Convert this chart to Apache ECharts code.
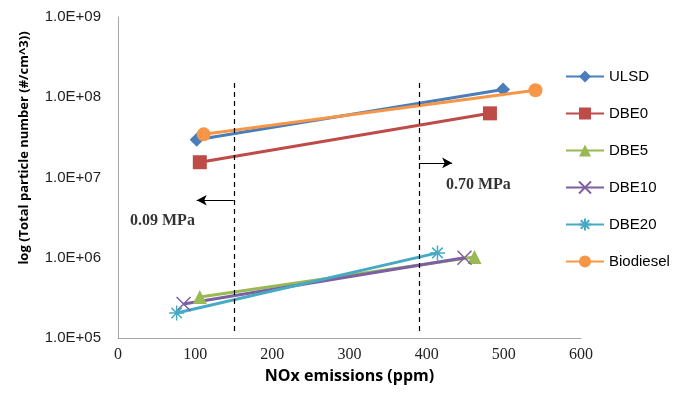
<!DOCTYPE html>
<html><head><meta charset="utf-8">
<script src="https://cdn.jsdelivr.net/npm/echarts@6/dist/echarts.min.js"></script>
<style>html,body{margin:0;padding:0;background:#fff}#c{width:690px;height:395px}</style>
</head><body><div id="c"></div>
<script>
var seriesNames = ['ULSD','DBE0','DBE5','DBE10','DBE20','Biodiesel'];
var ulsd      = [[102, 2.95e7], [499, 1.25e8]];
var dbe0      = [[106, 1.55e7], [482, 6.3e7]];
var dbe5      = [[106, 3.25e5], [462, 1.02e6]];
var dbe10     = [[85, 2.65e5], [449, 1.0e6]];
var dbe20     = [[76, 2.05e5], [414, 1.15e6]];
var biodiesel = [[111, 3.45e7], [541, 1.22e8]];
var xTicks = [0,100,200,300,400,500,600];
var yTicks = [1e5,1e6,1e7,1e8,1e9];
var pressureLines = [150, 390];
var annotations = [{text:'0.09 MPa', x:57.6, y:2.87e6}, {text:'0.70 MPa', x:467, y:8.07e6}];
var yTitle = 'log (Total particle number (#/cm^3))';
var xTitle = 'NOx emissions (ppm)';

var colors = ['#4a7ebb','#be4b48','#98b954','#7d60a0','#46aac5','#f79646'];
var crossPath = 'path://M0,0L10,10M10,0L0,10';
var starPath = 'path://M0,5L10,5M5,0L5,10M1.5,1.5L8.5,8.5M8.5,1.5L1.5,8.5';
var symbols = ['diamond','rect','triangle',crossPath,starPath,'circle'];
var symSizes = [14,14,14,14,15,14];
var datas = [ulsd,dbe0,dbe5,dbe10,dbe20,biodiesel];

function fmt(v){
  var e = Math.round(Math.log10(v));
  var m = v/Math.pow(10,e);
  return m.toFixed(1)+'E+'+(e<10?'0':'')+e;
}

var series = seriesNames.map(function(n,i){
  var isLineSym = i===3||i===4;
  return {
    name:n, type:'line', data:datas[i], symbol:symbols[i], symbolSize:symSizes[i],
    lineStyle:{width:3,color:colors[i]},
    itemStyle: isLineSym ? {color:'rgba(0,0,0,0)',borderColor:colors[i],borderWidth:1.5} : {color:colors[i],borderWidth:0},
    z: i===5?3:2, animation:false
  };
});

var dash = {type:'line', data:[], silent:true, animation:false,
  markLine:{silent:true, symbol:['none','none'], label:{show:false},
    lineStyle:{color:'#000',type:[5,4],width:1.2},
    data: pressureLines.map(function(x){return [{coord:[x,1.5e8]},{coord:[x,1.15e5]}];})
  }
};
var arrows = {type:'line', data:[], silent:true, animation:false,
  markLine:{silent:true, symbol:['none','arrow'], symbolSize:[8,10], label:{show:false},
    lineStyle:{color:'#000',type:'solid',width:1.2},
    data:[[{coord:[pressureLines[1],1.52e7]},{coord:[433,1.52e7]}],[{coord:[pressureLines[0],5.2e6]},{coord:[102,5.2e6]}]]
  }
};
var texts = {type:'scatter', symbolSize:0, silent:true, animation:false,
  data: annotations.map(function(a){return {value:[a.x,a.y], label:{show:true, formatter:a.text}};}),
  label:{position:'inside', fontFamily:'Liberation Serif', fontWeight:'bold', fontSize:16, color:'#000'}
};
series.push(dash, arrows, texts);

var chart = echarts.init(document.getElementById('c'));
chart.setOption({
  backgroundColor:'#fff',
  animation:false,
  color:colors,
  grid:{left:118, right:109, top:17, bottom:57},
  legend:{data:seriesNames, orient:'vertical', left:560, top:64, itemWidth:38, itemHeight:15, itemGap:22,
    textStyle:{fontFamily:'Liberation Sans', fontSize:15, color:'#000'}},
  graphic:[{type:'text', left:16, top:148, rotation:Math.PI/2, style:{text:yTitle, x:0, y:0,
      font:'bold 13px "Open Sans"', fill:'#000', textAlign:'center', textVerticalAlign:'middle'}, position:[24,148], left:null, top:null}],
  xAxis:{type:'value', min:0, max:600, interval:100,
    name:xTitle, nameLocation:'middle', nameGap:30,
    nameTextStyle:{fontFamily:'Open Sans', fontWeight:'bold', fontSize:16, color:'#000'},
    axisLine:{lineStyle:{color:'#a6a6a6',width:1}}, axisTick:{show:false}, splitLine:{show:false},
    axisLabel:{fontFamily:'Liberation Serif', fontSize:16, color:'#222', margin:9}},
  yAxis:{type:'log', logBase:10, min:1e5, max:1e9,
    axisLine:{show:true, lineStyle:{color:'#a6a6a6',width:1}}, axisTick:{show:false}, splitLine:{show:false},
    axisLabel:{formatter:fmt, fontFamily:'Liberation Sans', fontSize:15, color:'#222', margin:17}},
  series:series
});
</script></body></html>
